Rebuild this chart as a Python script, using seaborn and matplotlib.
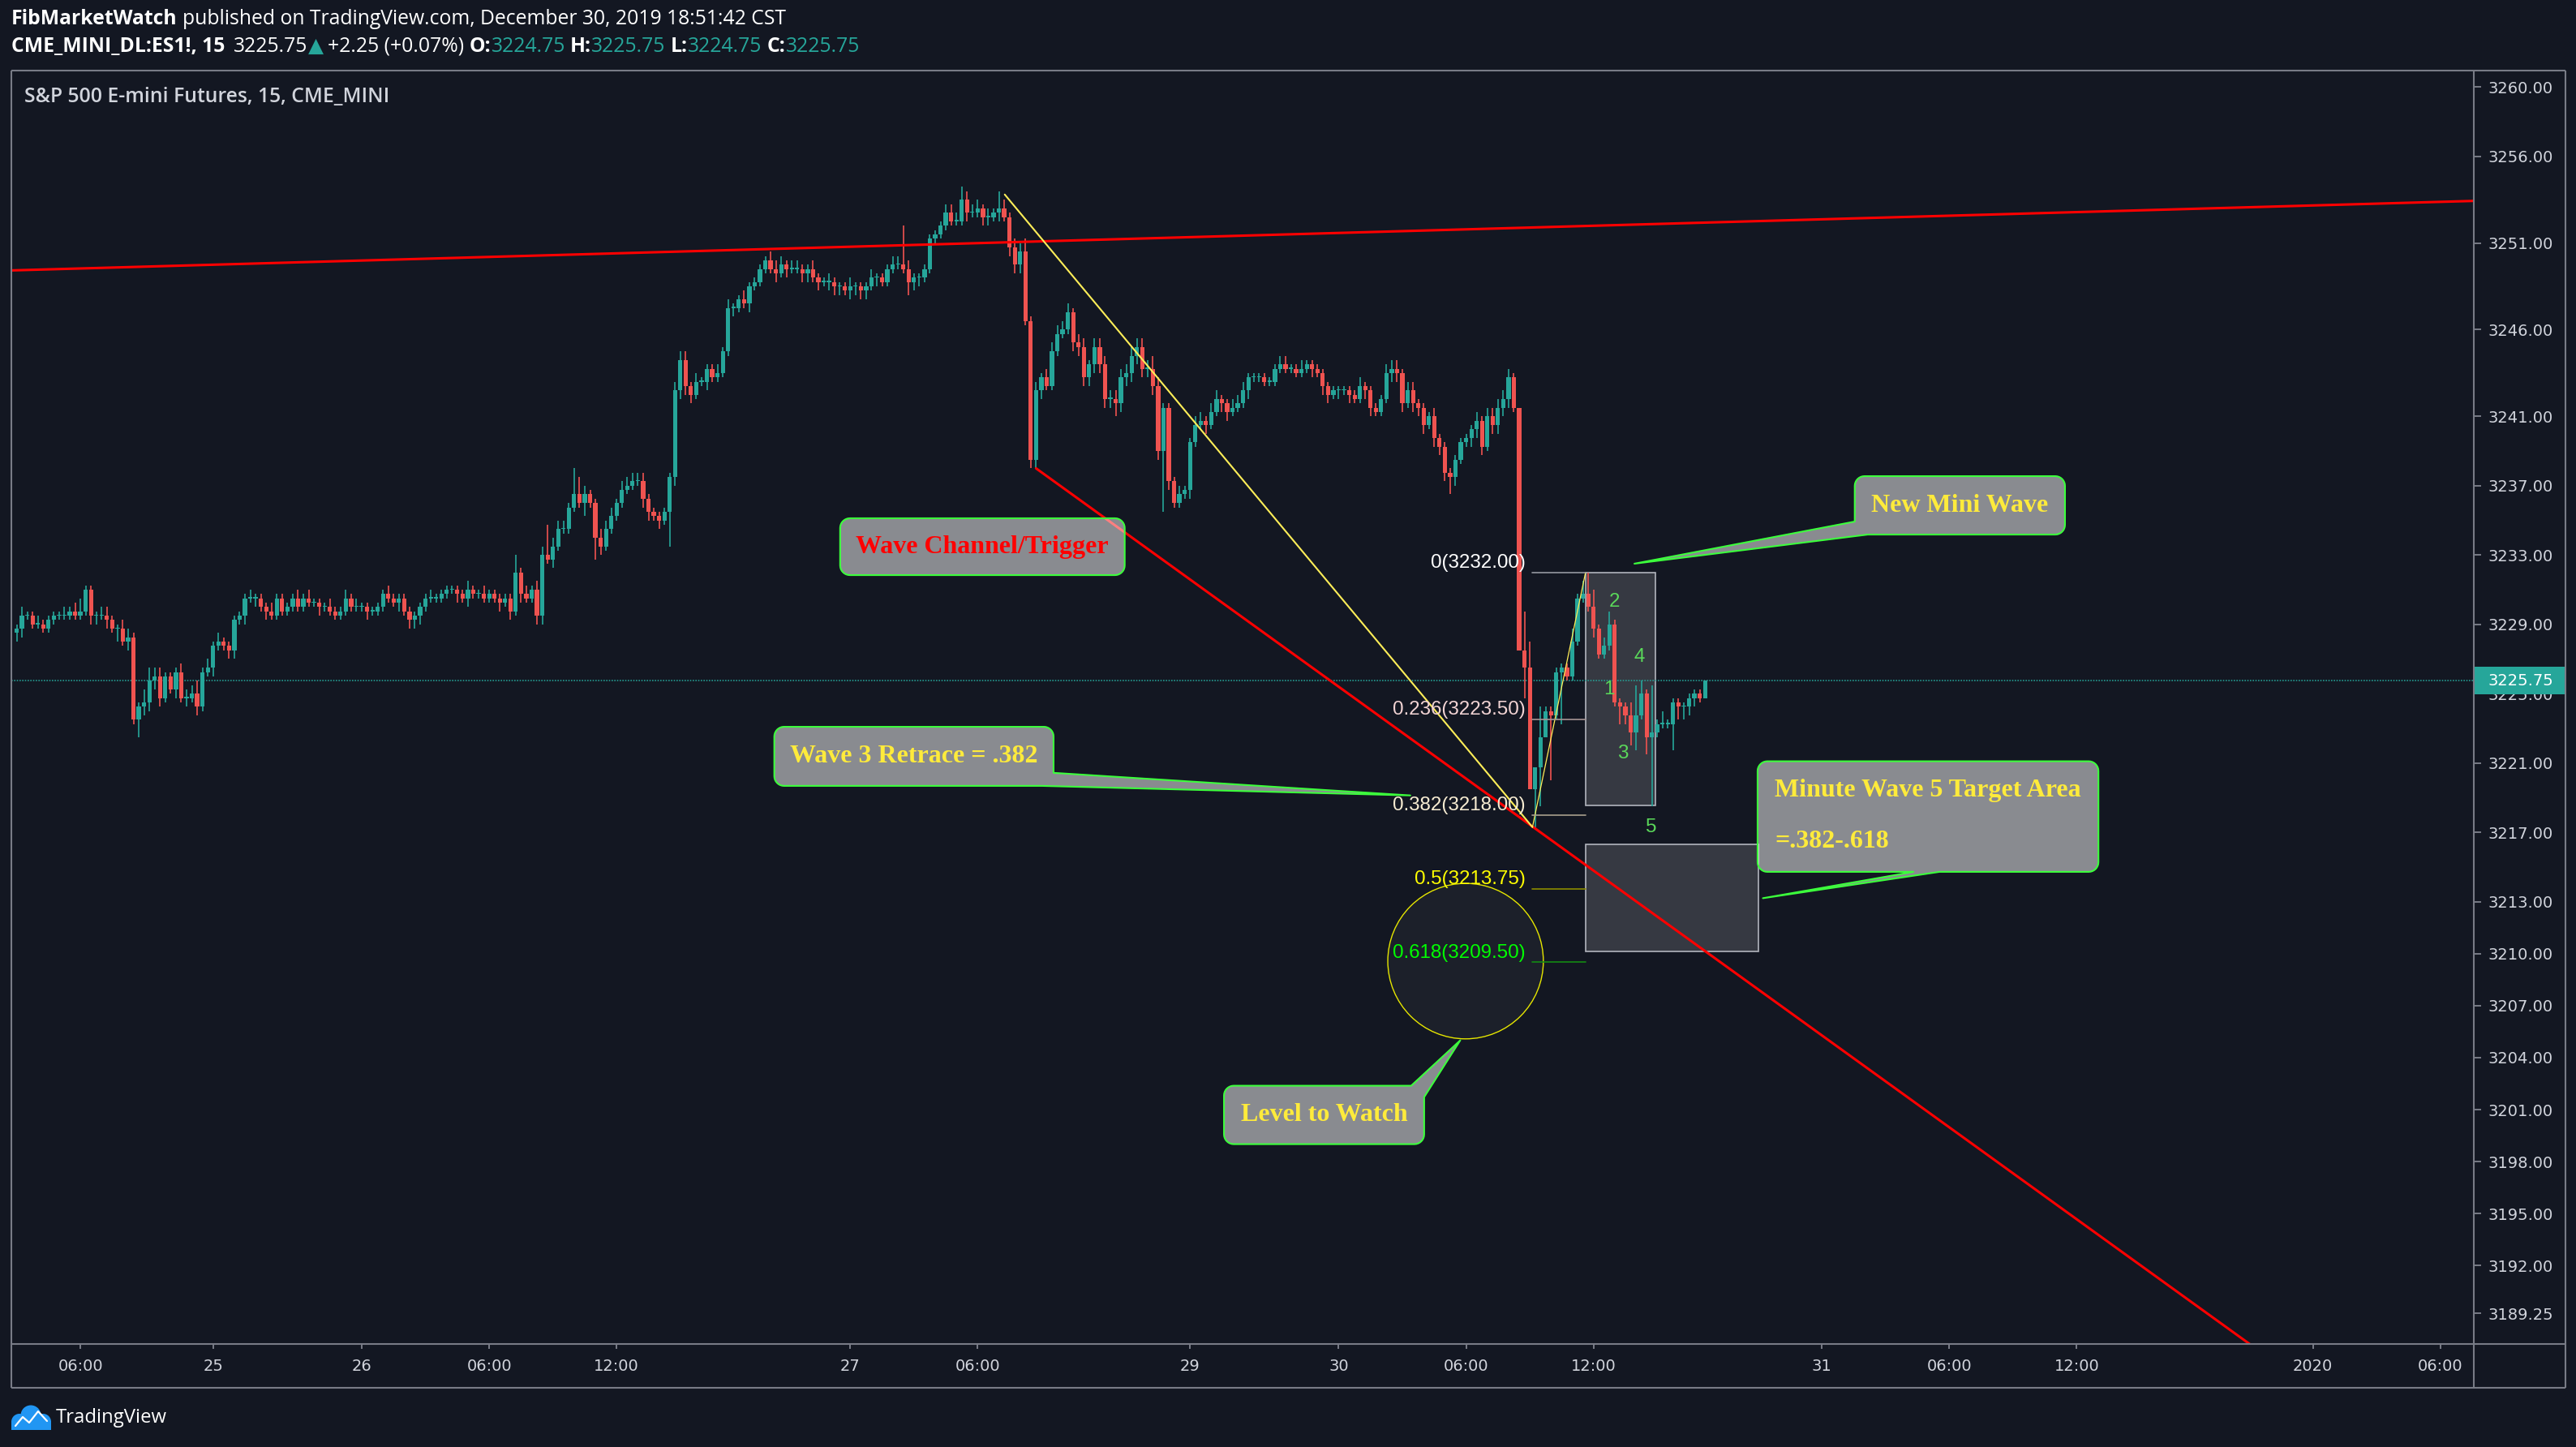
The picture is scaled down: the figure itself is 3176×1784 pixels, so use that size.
import numpy as np
import pandas as pd
import seaborn as sns
import matplotlib
matplotlib.use("Agg")
import matplotlib.pyplot as plt
from matplotlib.patches import Polygon, Rectangle, Ellipse, Circle
from matplotlib.transforms import IdentityTransform, blended_transform_factory

BG = "#131722"
TEAL = "#26a69a"
RED = "#ef5350"
FRAME = "#787b86"
AXTXT = "#d1d4dc"
LIME = "#3cff3c"
YEL = "#ffeb3b"

# ---- ES1! 15 min closes, one list per session ----
dec24_close = [3228.75, 3229.5, 3229.5, 3229.0, 3229.0, 3228.75, 3229.25, 3229.5, 3229.5, 3229.5,
               3229.75, 3229.5, 3229.75, 3231.0, 3229.5, 3229.5, 3229.5, 3229.25, 3228.75, 3228.75,
               3228.0, 3228.25, 3223.5, 3224.25, 3224.5, 3225.75, 3226.0, 3224.75, 3226.0, 3225.25,
               3226.25, 3224.75, 3224.75, 3225.0, 3224.25, 3226.25, 3226.5]
dec26_close = [3227.75, 3228.0, 3227.75, 3227.5, 3229.25, 3229.5, 3230.5, 3230.5, 3230.5, 3230.0,
               3229.75, 3229.5, 3230.5, 3229.75, 3230.0, 3230.5, 3230.0, 3230.5, 3230.25, 3230.25,
               3230.0, 3230.0, 3229.75, 3229.5, 3229.75, 3230.5, 3230.0, 3230.0, 3230.0, 3229.75,
               3229.75, 3230.0, 3230.75, 3230.5, 3230.25, 3230.5, 3229.75, 3229.25, 3229.5, 3230.0,
               3230.5, 3230.5, 3230.5, 3230.75, 3231.0, 3231.0, 3230.75, 3230.5, 3231.0, 3230.75,
               3230.75, 3230.5, 3230.75, 3230.5, 3230.25, 3230.5, 3229.75, 3232.0, 3230.75, 3230.5,
               3231.0, 3229.5, 3233.0, 3232.75, 3233.5, 3234.5, 3234.5, 3235.75, 3236.5, 3236.0,
               3236.5, 3236.0, 3234.0, 3233.5, 3234.5, 3235.25, 3236.0, 3236.75, 3237.0, 3237.25,
               3237.25, 3236.25, 3235.5, 3235.25, 3235.0, 3235.5, 3237.5, 3242.5, 3244.25, 3242.75,
               3242.25, 3243.0]
dec27_close = [3243.0, 3243.75, 3243.25, 3243.5, 3244.75, 3247.25, 3247.25, 3247.75, 3247.5, 3248.5,
               3248.75, 3249.5, 3250.0, 3249.5, 3249.25, 3249.75, 3249.5, 3249.5, 3249.5, 3249.25,
               3249.5, 3249.0, 3248.75, 3248.75, 3248.75, 3248.5, 3248.5, 3248.25, 3248.5, 3248.5,
               3248.25, 3248.5, 3249.0, 3249.0, 3248.75, 3249.5, 3249.75, 3249.75, 3249.5, 3248.75,
               3249.0, 3249.0, 3249.5, 3251.25, 3251.5, 3252.0, 3252.75, 3252.25, 3252.25, 3253.5,
               3252.75, 3252.75, 3253.0, 3252.5, 3252.5, 3252.75, 3253.0, 3252.5, 3250.75, 3249.75,
               3250.5, 3246.5, 3238.5, 3242.5, 3243.25, 3242.75, 3244.75, 3245.75, 3246.0, 3247.0,
               3245.25, 3245.0, 3243.25, 3244.0, 3245.0, 3244.0, 3242.0, 3242.0, 3241.75, 3243.25,
               3243.5, 3244.5, 3245.0, 3243.75, 3243.75, 3242.75, 3239.0, 3241.5, 3237.25, 3236.0,
               3236.5, 3236.75]
dec30_close = [3239.5, 3240.5, 3240.75, 3240.5, 3241.25, 3242.0, 3241.75, 3241.25, 3241.5, 3241.75,
               3242.5, 3243.25, 3243.25, 3243.25, 3243.0, 3243.0, 3243.75, 3244.0, 3243.75, 3243.75,
               3243.5, 3243.75, 3244.0, 3243.75, 3243.5, 3242.75, 3242.25, 3242.5, 3242.5, 3242.5,
               3242.25, 3242.0, 3242.75, 3242.5, 3241.5, 3241.25, 3242.0, 3243.5, 3243.75, 3243.5,
               3241.75, 3242.5, 3241.75, 3241.5, 3240.5, 3241.0, 3239.75, 3239.25, 3237.75, 3237.5,
               3238.5, 3239.5, 3239.75, 3240.25, 3240.75, 3239.25, 3241.0, 3240.5, 3241.5, 3242.0,
               3243.25, 3241.5, 3227.5, 3226.5, 3219.5, 3220.75, 3222.5, 3224.0, 3223.75, 3226.25,
               3226.5, 3226.0, 3228.0, 3230.5, 3230.75, 3230.0, 3228.75, 3227.25, 3227.75, 3229.0,
               3224.5, 3224.25, 3223.75, 3222.75, 3223.75, 3225.0, 3222.5, 3222.75, 3223.25, 3223.25,
               3223.25, 3224.5]
dec30_eve_close = [3224.25, 3224.25, 3224.75, 3225.0, 3224.75, 3225.75]
first_open = 3228.5

# wick lengths in ticks of 0.25, one base-36 digit per bar
dec24_wick_up = "1211211112" "1231112211" "2211332211" "1222312"
dec24_wick_dn = "2211111111" "1111221213" "1214222211" "2121211"
dec26_wick_up = ("1211111211" "1211112121" "1121121211" "1112111111" "1211111121"
                 "1211111412" "1227222164" "2112221222" "2211111222" "12")
dec26_wick_dn = ("2112212121" "2111111111" "2111111112" "1111121222" "1111112121"
                 "1111212121" "1221211111" "3152111111" "1221218222" "21")
dec27_wick_up = ("1112121121" "1112221221" "1211211121" "1121112292" "1111112223"
                 "2221214212" "2312122222" "1221222222" "2222232111" "21")
dec27_wick_dn = ("1211112112" "1111212112" "2121222122" "2212111113" "2211111111"
                 "2112212122" "2122211111" "2222222232" "2222222e21" "11")
dec30_wick_up = ("1221221122" "2111111221" "1211111111" "1121111222" "1221112111"
                 "1111212222" "2109607111" "1131354123" "1113731b13" "11")
dec30_wick_dn = ("2112112211" "1211111111" "1112122121" "2112211122" "2122212224"
                 "2112221222" "21070990f1" "c111112111" "1423414g11" "16")
dec30_eve_wick_up = "111110"
dec30_eve_wick_dn = "332210"

# ---- time axis (bar index) and price axis ----
time_tick_pos = [12, 37, 65, 89, 113, 157, 181, 221, 249, 273, 297, 340, 364, 388, 432.5, 456.5]
time_tick_labels = ["06:00", "25", "26", "06:00", "12:00", "27", "06:00", "29", "30", "06:00",
                    "12:00", "31", "06:00", "12:00", "2020", "06:00"]
price_ticks = [3260, 3256, 3251, 3246, 3241, 3237, 3233, 3229, 3225, 3221, 3217, 3213, 3210,
               3207, 3204, 3201, 3198, 3195, 3192, 3189.25]

# ---- drawings ----
upper_channel_x, upper_channel_y = [-1.0, 462.8], [3249.42, 3253.43]
lower_channel_x, lower_channel_y = [192.0, 425.0], [3238.0, 3186.5]
wave_line_x, wave_line_y = [186.1, 285.5], [3253.8, 3217.3]
fib_trend_x, fib_trend_y = [285.5, 295.5], [3217.3, 3232.0]

fib_labels = ["0", "0.236", "0.382", "0.5", "0.618"]
fib_prices = [3232.00, 3223.50, 3218.00, 3213.75, 3209.50]
fib_line_colors = ["#9598a1", "#a69494", "#a89f8c", "#8c8c00", "#138a13"]
fib_text_colors = ["#ffffff", "#f2d4d4", "#f7ecd2", "#ffff00", "#00ff00"]
fib_x = (285.5, 295.5)

wave_counts = ["1", "2", "3", "4", "5"]
wave_count_x = [299.9, 300.9, 302.5, 305.7, 307.8]
wave_count_y = [3225.25, 3230.3, 3221.55, 3227.1, 3217.3]

count_box = (295.5, 308.7, 3218.56, 3232.0)
target_box = (295.5, 328.0, 3210.12, 3216.3)
watch_circle = (272.9, 3209.57, 29.3, 8.97)

# callouts: box (x0, x1, y0, y1), pointer tip, pointer base points
callouts = [
    dict(text=["Wave Channel/Trigger"], color="#ff0000", box=(155.1, 208.7, 3231.84, 3235.12)),
    dict(text=["New Mini Wave"], color=YEL, box=(346.2, 385.8, 3234.18, 3237.55),
         tip=(304.7, 3232.5), base=[(346.2, 3234.97), (348.5, 3234.18)]),
    dict(text=["Wave 3 Retrace = .382"], color=YEL, box=(142.7, 195.3, 3219.68, 3223.09),
         tip=(262.5, 3219.13), base=[(195.3, 3220.44), (193.2, 3219.68)]),
    dict(text=["Minute Wave 5 Target Area", "=.382-.618"], color=YEL,
         box=(327.9, 392.1, 3214.72, 3221.10), tip=(328.9, 3213.2),
         base=[(357.4, 3214.72), (362.2, 3214.72)], left=331.1, rows=[3219.4, 3216.45]),
    dict(text=["Level to Watch"], color=YEL, box=(227.4, 265.1, 3199.01, 3202.38),
         tip=(271.9, 3205.0), base=[(262.7, 3202.38), (265.1, 3201.69)]),
]


def ticks(s):
    return [int(c, 36) * 0.25 for c in s]


close = np.array(dec24_close + dec26_close + dec27_close + dec30_close + dec30_eve_close)
wick_up = np.array(ticks(dec24_wick_up + dec26_wick_up + dec27_wick_up + dec30_wick_up + dec30_eve_wick_up))
wick_dn = np.array(ticks(dec24_wick_dn + dec26_wick_dn + dec27_wick_dn + dec30_wick_dn + dec30_eve_wick_dn))
n = len(close)
wick_up = np.resize(wick_up, n) if len(wick_up) != n else wick_up
wick_dn = np.resize(wick_dn, n) if len(wick_dn) != n else wick_dn
open_ = np.r_[first_open, close[:-1]]
high = np.maximum(open_, close) + wick_up
low = np.minimum(open_, close) - wick_dn
bar_x = np.arange(n)
last = close[-1]

sns.set_theme(style="dark", rc={"axes.facecolor": BG, "figure.facecolor": BG})
plt.rcParams["font.family"] = ["DejaVu Sans"]

W, H = 3176, 1784
fig = plt.figure(figsize=(W / 200, H / 200), dpi=200)
fig.patch.set_facecolor(BG)
ax = fig.add_axes([14 / W, (H - 1657) / H, (3050 - 14) / W, (1657 - 87) / H])
ax.set_facecolor(BG)
XLIM, YLIM = (-1.0, 462.8), (3187.48, 3260.95)
ax.set_xlim(*XLIM)
ax.set_ylim(*YLIM)

# rectangles and circle under the candles
for bx in (count_box, target_box):
    ax.add_patch(Rectangle((bx[0], bx[2]), bx[1] - bx[0], bx[3] - bx[2], facecolor=(1, 1, 1, 0.15),
                           edgecolor="#b2b5be", linewidth=0.6, zorder=2))
cx, cy, cw, ch = watch_circle
ax.add_patch(Ellipse((cx, cy), cw, ch, facecolor=(1, 1, 1, 0.04), edgecolor="#e6e600",
                     linewidth=0.5, zorder=2))

# current price line
ax.axhline(last, color=TEAL, lw=0.6, ls=(0, (1, 1)), alpha=0.9, zorder=2.2)

# candles
colors = np.where(close >= open_, TEAL, RED)
ax.vlines(bar_x, low, high, colors=colors, linewidth=0.6, zorder=3)
body = np.maximum(np.abs(close - open_), 0.07)
ax.bar(bar_x, body, bottom=np.minimum(open_, close), width=0.8, color=colors, linewidth=0, zorder=4)

# trend lines
for lx, ly, col, lw in [(upper_channel_x, upper_channel_y, "#ff0000", 1.1),
                        (lower_channel_x, lower_channel_y, "#ff0000", 1.1),
                        (wave_line_x, wave_line_y, "#ffee58", 0.75),
                        (fib_trend_x, fib_trend_y, "#ffee58", 0.45)]:
    sns.lineplot(x=lx, y=ly, color=col, linewidth=lw, sort=False, estimator=None, ax=ax, zorder=5)

# fib levels
for lab, p, lc, tc in zip(fib_labels, fib_prices, fib_line_colors, fib_text_colors):
    ax.plot(fib_x, [p, p], color=lc, lw=0.6, zorder=5)
    ax.annotate(f"{lab}({p:.2f})", xy=(fib_x[0], p), xytext=(-3, 4.3), textcoords="offset points",
                ha="right", va="center", color=tc, fontsize=8.7, family="Liberation Sans", zorder=6)

for t, wx, wy in zip(wave_counts, wave_count_x, wave_count_y):
    ax.text(wx, wy, t, color="#5ad85a", fontsize=8.7, family="Liberation Sans",
            ha="center", va="center", zorder=6)

# axes, ticks
for s in ax.spines.values():
    s.set_visible(False)
ax.set_xlabel("")
ax.set_ylabel("")
ax.set_xticks(time_tick_pos)
ax.set_xticklabels(time_tick_labels)
ax.set_yticks(price_ticks)
ax.set_yticklabels([f"{v:.2f}" for v in price_ticks])
ax.tick_params(axis="y", left=False, right=True, labelleft=False, labelright=True, length=3.2,
               width=0.7, pad=3.2, color=FRAME, labelcolor=AXTXT, labelsize=7)
ax.tick_params(axis="x", bottom=True, length=2, width=0.7, pad=4.6, color=FRAME,
               labelcolor=AXTXT, labelsize=7)
ax.grid(False)
ax.set_xlim(*XLIM)
ax.set_ylim(*YLIM)
ax.set_autoscale_on(False)

blend = blended_transform_factory(ax.transAxes, ax.transData)
ax.add_patch(Rectangle((1.0, last - 0.795), 112 / 3036, 1.59, transform=blend, facecolor=TEAL,
                       edgecolor="none", clip_on=False, zorder=10))
ax.text(1.0 + 18 / 3036, last, f"{last:.2f}", transform=blend, color="white", fontsize=7,
        va="center", ha="left", clip_on=False, zorder=11)


# callouts (rounded box + pointer), built in pixel space
def rounded_outline(x0, y0, x1, y1, r, step=2.0):
    pts = []

    def edge(p, q):
        k = max(int(np.hypot(q[0] - p[0], q[1] - p[1]) / step), 1)
        for t in np.linspace(0, 1, k, endpoint=False):
            pts.append((p[0] + (q[0] - p[0]) * t, p[1] + (q[1] - p[1]) * t))

    def arc(ax_, ay_, a0, a1):
        for a in np.linspace(np.radians(a0), np.radians(a1), 8, endpoint=False):
            pts.append((ax_ + r * np.cos(a), ay_ + r * np.sin(a)))

    edge((x0 + r, y0), (x1 - r, y0)); arc(x1 - r, y0 + r, -90, 0)
    edge((x1, y0 + r), (x1, y1 - r)); arc(x1 - r, y1 - r, 0, 90)
    edge((x1 - r, y1), (x0 + r, y1)); arc(x0 + r, y1 - r, 90, 180)
    edge((x0, y1 - r), (x0, y0 + r)); arc(x0 + r, y0 + r, 180, 270)
    return np.array(pts)


tr = ax.transData
for c in callouts:
    x0, x1, y0, y1 = c["box"]
    p0 = tr.transform((x0, y0))
    p1 = tr.transform((x1, y1))
    pts = rounded_outline(p0[0], p0[1], p1[0], p1[1], 12)
    if "tip" in c:
        tp = tr.transform(c["tip"])
        a = tr.transform(c["base"][0])
        b = tr.transform(c["base"][1])
        ia = int(np.argmin(((pts - a) ** 2).sum(1)))
        ib = int(np.argmin(((pts - b) ** 2).sum(1)))
        m = len(pts)
        fwd = (ib - ia) % m
        if fwd <= m / 2:
            keep = [(ib + k) % m for k in range(m - fwd + 1)]
        else:
            keep = [(ia + k) % m for k in range(fwd + 1)]
        pts = np.vstack([pts[keep], tp])
    ax.add_patch(Polygon(pts, closed=True, transform=IdentityTransform(), facecolor=(1, 1, 1, 0.5),
                         edgecolor=LIME, linewidth=0.75, joinstyle="round", zorder=7))
    if "rows" in c:
        for line, ry in zip(c["text"], c["rows"]):
            ax.text(c["left"], ry, line, color=c["color"], fontsize=11.5, family="Liberation Serif",
                    weight="bold", ha="left", va="center", zorder=8)
    else:
        ax.text((x0 + x1) / 2, (y0 + y1) / 2, c["text"][0], color=c["color"], fontsize=11.5,
                family="Liberation Serif", weight="bold", ha="center", va="center", zorder=8)

# overlay in figure pixels: frame, header, logo
ov = fig.add_axes([0, 0, 1, 1], zorder=10)
ov.set_xlim(0, W)
ov.set_ylim(H, 0)
ov.axis("off")
ov.patch.set_visible(False)
for xs, ys in [([14, 3163], [87, 87]), ([14, 14], [87, 1711]), ([3163, 3163], [87, 1711]),
               ([14, 3163], [1657, 1657]), ([14, 3163], [1711, 1711]), ([3050, 3050], [87, 1711])]:
    ov.plot(xs, ys, color=FRAME, lw=0.75, solid_capstyle="butt")

renderer = fig.canvas.get_renderer()
HF = ["Open Sans", "DejaVu Sans"]
HS = 8.9


def text_w(s, **kw):
    t = ov.text(0, 0, s, **kw)
    w = t.get_window_extent(renderer).width
    t.remove()
    return w


space = text_w("x x", family=HF, fontsize=HS) - text_w("xx", family=HF, fontsize=HS)


def runs(x, y, items):
    for s, col, wt, gap in items:
        t = ov.text(x, y, s, color=col, weight=wt, family=HF, fontsize=HS, va="center", ha="left")
        x += t.get_window_extent(renderer).width + gap * space


runs(14, 23, [("FibMarketWatch", "white", "bold", 1),
              ("published on TradingView.com, December 30, 2019 18:51:42 CST", "white", "normal", 0)])
runs(14, 57, [("CME_MINI_DL:ES1!, 15", "white", "bold", 1.6), ("3225.75", "white", "normal", 0.2),
              ("\u25b2", TEAL, "normal", 0.8), ("+2.25 (+0.07%)", "white", "normal", 1),
              ("O:", "white", "bold", 0), ("3224.75", TEAL, "normal", 1),
              ("H:", "white", "bold", 0), ("3225.75", TEAL, "normal", 1),
              ("L:", "white", "bold", 0), ("3224.75", TEAL, "normal", 1),
              ("C:", "white", "bold", 0), ("3225.75", TEAL, "normal", 0)])
ov.text(30, 120, "S&P 500 E-mini Futures, 15, CME_MINI", color=AXTXT, family=HF, fontsize=HS,
        weight="semibold", va="center", ha="left")

# TradingView logo
for (lx, ly, lr) in [(24, 1753, 10), (38, 1745, 12.5), (53, 1753, 10)]:
    ov.add_patch(Circle((lx, ly), lr, color="#2196f3", lw=0))
ov.add_patch(Rectangle((14, 1752), 49, 11, color="#2196f3", lw=0))
ov.plot([19, 28, 36, 47, 58], [1758, 1747, 1754, 1740, 1752], color="white", lw=0.8)
ov.text(69, 1748, "TradingView", color="white", family=HF, fontsize=8.6, va="center", ha="left")

fig.savefig("out.png", dpi=200, facecolor=BG)
